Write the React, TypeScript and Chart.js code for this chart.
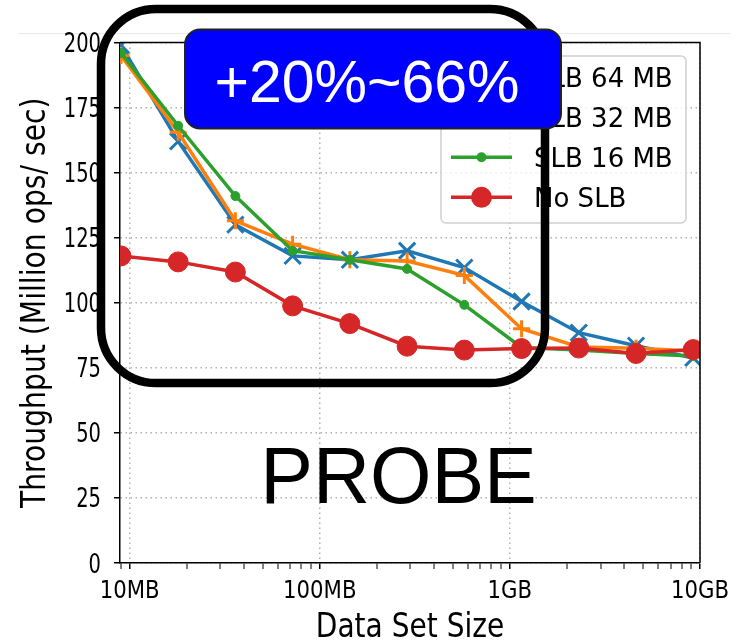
import React, { useEffect, useRef } from "react";
import { Chart, registerables } from "chart.js";

Chart.register(...registerables);

// Data set sizes in MB
const dataSetSizes = [9, 18, 36, 72, 144, 288, 576, 1152, 2304, 4608, 9216];
const slb64 = [199, 162, 130, 118, 116.5, 120, 113.5, 100.5, 88.5, 83.5, 78.8];
const slb32 = [195, 165.5, 131.5, 122.5, 116.5, 116, 110.5, 90, 83, 82.5, 81.5];
const slb16 = [196, 168, 141, 120, 116.5, 113, 99.2, 82.8, 81.8, 80.5, 79.5];
const noSlb = [118, 115.7, 111.8, 98.8, 92, 83.3, 81.8, 82.4, 82.6, 80.5, 82];

const seriesLabels = ["SLB 64 MB", "SLB 32 MB", "SLB 16 MB", "No SLB"];
const seriesColors = ["#1f77b4", "#ff7f0e", "#2ca02c", "#d62728"];

const xTickValues = [10, 100, 1000, 10000];
const xTickLabels = ["10MB", "100MB", "1GB", "10GB"];
const xMinorTicks = [9, 20, 30, 40, 50, 60, 70, 80, 90, 200, 300, 400, 500, 600, 700, 800, 900, 2000, 3000, 4000, 5000, 6000, 7000, 8000, 9000];
const yTickValues = [0, 25, 50, 75, 100, 125, 150, 175, 200];

const xTitle = "Data Set Size";
const yTitle = "Throughput (Million ops/ sec)";
const badgeText = "+20%~66%";
const probeText = "PROBE";

const GRID = "#b0b0b0";
const DJ = "'DejaVu Sans', sans-serif";

function scaledText(ctx: CanvasRenderingContext2D, text: string, x: number, y: number, font: string, sx: number, align: CanvasTextAlign, rot = 0) {
  ctx.save();
  ctx.translate(x, y);
  if (rot) ctx.rotate(rot);
  ctx.scale(sx, 1);
  ctx.font = font;
  ctx.textAlign = align;
  ctx.textBaseline = "alphabetic";
  ctx.fillText(text, 0, 0);
  ctx.restore();
}

function roundRectPath(ctx: CanvasRenderingContext2D, x: number, y: number, w: number, h: number, r: number) {
  ctx.beginPath();
  ctx.moveTo(x + r, y);
  ctx.lineTo(x + w - r, y);
  ctx.arcTo(x + w, y, x + w, y + r, r);
  ctx.lineTo(x + w, y + h - r);
  ctx.arcTo(x + w, y + h, x + w - r, y + h, r);
  ctx.lineTo(x + r, y + h);
  ctx.arcTo(x, y + h, x, y + h - r, r);
  ctx.lineTo(x, y + r);
  ctx.arcTo(x, y, x + r, y, r);
  ctx.closePath();
}

const overlayPlugin = {
  id: "overlay",
  beforeDraw(chart: any) {
    const ctx = chart.ctx as CanvasRenderingContext2D;
    ctx.save();
    ctx.strokeStyle = "#ebebeb";
    ctx.lineWidth = 1;
    ctx.beginPath();
    ctx.moveTo(18, 33.5);
    ctx.lineTo(730, 33.5);
    ctx.stroke();
    ctx.restore();
  },
  afterDraw(chart: any) {
    const ctx = chart.ctx as CanvasRenderingContext2D;
    const area = chart.chartArea;
    const xs = chart.scales.x;
    const ys = chart.scales.y;

    // frame (top and right spines)
    ctx.save();
    ctx.strokeStyle = "#000";
    ctx.lineWidth = 1.5;
    ctx.beginPath();
    ctx.moveTo(area.left, area.top);
    ctx.lineTo(area.right, area.top);
    ctx.lineTo(area.right, area.bottom);
    ctx.stroke();
    ctx.restore();

    // tick labels
    ctx.save();
    ctx.fillStyle = "#000";
    xTickValues.forEach((v, i) => {
      const px = xs.getPixelForValue(v);
      scaledText(ctx, xTickLabels[i], px, 598, `25px ${DJ}`, 0.85, "center");
    });
    yTickValues.forEach((v) => {
      const py = ys.getPixelForValue(v);
      scaledText(ctx, String(v), 101, py + 9.5, `26px ${DJ}`, 0.75, "right");
    });
    // axis titles
    scaledText(ctx, xTitle, (area.left + area.right) / 2, 637, `33px ${DJ}`, 0.85, "center");
    scaledText(ctx, yTitle, 45, (area.top + area.bottom) / 2, `34px ${DJ}`, 0.83, "center", -Math.PI / 2);
    ctx.restore();

    // legend
    ctx.save();
    roundRectPath(ctx, 441, 56, 245, 167, 5);
    ctx.fillStyle = "rgba(255,255,255,0.8)";
    ctx.fill();
    ctx.strokeStyle = "#d0d0d0";
    ctx.lineWidth = 1.5;
    ctx.stroke();
    const ds = chart.data.datasets;
    ds.forEach((d: any, i: number) => {
      const y = 77.3 + i * 40;
      ctx.strokeStyle = d.borderColor;
      ctx.lineWidth = d.borderWidth;
      ctx.beginPath();
      ctx.moveTo(451, y);
      ctx.lineTo(512, y);
      ctx.stroke();
      const cx = 481.5;
      if (d.pointStyle === "circle") {
        ctx.fillStyle = d.borderColor;
        ctx.beginPath();
        ctx.arc(cx, y, d.pointRadius + 0.5, 0, Math.PI * 2);
        ctx.fill();
      } else {
        ctx.lineWidth = d.pointBorderWidth;
        ctx.beginPath();
        if (d.pointStyle === "cross") {
          const r = d.pointRadius;
          ctx.moveTo(cx - r, y); ctx.lineTo(cx + r, y);
          ctx.moveTo(cx, y - r); ctx.lineTo(cx, y + r);
        } else {
          const r = d.pointRadius * Math.SQRT1_2;
          ctx.moveTo(cx - r, y - r); ctx.lineTo(cx + r, y + r);
          ctx.moveTo(cx - r, y + r); ctx.lineTo(cx + r, y - r);
        }
        ctx.stroke();
      }
      ctx.fillStyle = "#000";
      ctx.font = `26px ${DJ}`;
      ctx.textAlign = "left";
      ctx.textBaseline = "alphabetic";
      ctx.fillText(d.label, 534, y + 9.5);
    });
    ctx.restore();

    // big black rounded outline
    ctx.save();
    roundRectPath(ctx, 101, 9, 444, 374, 55);
    ctx.strokeStyle = "#000";
    ctx.lineWidth = 8.5;
    ctx.stroke();
    ctx.restore();

    // blue badge
    ctx.save();
    roundRectPath(ctx, 185, 29.5, 376, 99, 15);
    ctx.fillStyle = "#0000ff";
    ctx.fill();
    ctx.strokeStyle = "#222";
    ctx.lineWidth = 2;
    ctx.stroke();
    ctx.fillStyle = "#fff";
    ctx.font = "59px 'Liberation Sans', Arial, sans-serif";
    ctx.textAlign = "center";
    ctx.textBaseline = "alphabetic";
    ctx.fillText(badgeText, 367, 101.5);
    ctx.restore();

    // PROBE text
    ctx.save();
    ctx.fillStyle = "#000";
    ctx.font = "79px 'Liberation Sans', Arial, sans-serif";
    ctx.textAlign = "center";
    ctx.textBaseline = "alphabetic";
    ctx.fillText(probeText, 398.5, 503);
    ctx.restore();
  },
};

function toPoints(ys: number[]) {
  return dataSetSizes.map((x, i) => ({ x, y: ys[i] }));
}

export default function App() {
  const ref = useRef<HTMLCanvasElement>(null);
  useEffect(() => {
    if (!ref.current) return;
    const majorSet = new Set(xTickValues);
    const allXTicks = [...xMinorTicks, ...xTickValues].sort((a, b) => a - b);
    const mk = (i: number, data: number[], style: string, radius: number, order: number) => ({
      label: seriesLabels[i],
      data: toPoints(data),
      borderColor: seriesColors[i],
      backgroundColor: seriesColors[i],
      pointBackgroundColor: seriesColors[i],
      pointBorderColor: seriesColors[i],
      pointStyle: style,
      pointRadius: radius,
      pointBorderWidth: style === "circle" ? 1 : 3,
      borderWidth: 3.5,
      tension: 0,
      fill: false,
      clip: 0,
      order,
    });
    const chart = new Chart(ref.current, {
      type: "line",
      data: {
        datasets: [
          mk(0, slb64, "crossRot", 11.5, 4),
          mk(1, slb32, "cross", 8.5, 3),
          mk(2, slb16, "circle", 4.5, 2),
          mk(3, noSlb, "circle", 10, 1),
        ] as any,
      },
      options: {
        responsive: false,
        maintainAspectRatio: false,
        animation: false,
        devicePixelRatio: 1,
        layout: { padding: { top: 42.5, right: 39, bottom: 0, left: 0 } },
        plugins: { legend: { display: false }, tooltip: { enabled: false }, title: { display: false } },
        scales: {
          x: {
            type: "logarithmic",
            min: 8.9,
            max: 10000,
            afterBuildTicks: (scale: any) => {
              scale.ticks = allXTicks.map((v) => ({ value: v, major: majorSet.has(v) }));
            },
            afterFit: (scale: any) => {
              scale.height = 78;
            },
            ticks: { display: false, autoSkip: false },
            grid: {
              drawOnChartArea: true,
              color: (c: any) => (c.tick && majorSet.has(c.tick.value) ? GRID : "rgba(0,0,0,0)"),
              lineWidth: (c: any) => (c.tick && majorSet.has(c.tick.value) ? 1.5 : 0),
              tickColor: "#000",
              tickWidth: (c: any) => (c.tick && majorSet.has(c.tick.value) ? 1.5 : 1),
              tickLength: 6,
            },
            border: { display: true, color: "#000", width: 1.5, dash: [1.5, 3.5] },
          },
          y: {
            type: "linear",
            min: 0,
            max: 200,
            afterBuildTicks: (scale: any) => {
              scale.ticks = yTickValues.map((v) => ({ value: v }));
            },
            afterFit: (scale: any) => {
              scale.width = 120;
            },
            ticks: { display: false },
            grid: {
              color: GRID,
              lineWidth: 1.5,
              tickColor: "#000",
              tickWidth: 1.5,
              tickLength: 6,
            },
            border: { display: true, color: "#000", width: 1.5, dash: [1.5, 3.5] },
          },
        },
      } as any,
      plugins: [overlayPlugin],
    });
    return () => chart.destroy();
  }, []);
  return (
    <div style={{ position: "absolute", left: 0, top: 0, width: 739, height: 641, background: "#fff" }}>
      <canvas ref={ref} width={739} height={641} style={{ display: "block", width: 739, height: 641 }} />
    </div>
  );
}
